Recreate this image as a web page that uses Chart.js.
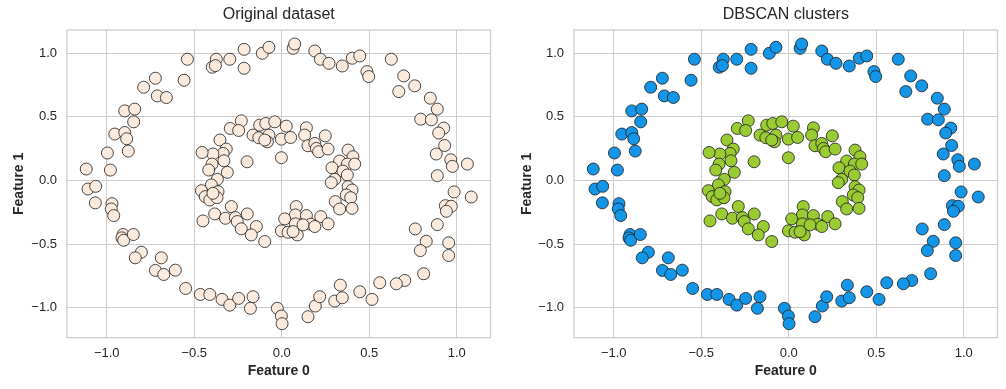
<!DOCTYPE html>
<html>
<head>
<meta charset="utf-8">
<script src="https://cdn.jsdelivr.net/npm/chart.js@4.4.1/dist/chart.umd.min.js"></script>
<style>
    body { margin: 0; background: #ffffff; }
    #wrap { position: relative; width: 1006px; height: 389px; }
    canvas { position: absolute; top: 0; }
</style>
</head>
<body>
<div id="wrap">
    <canvas id="chartLeft" width="503" height="389" style="left:0px"></canvas>
    <canvas id="chartRight" width="503" height="389" style="left:503px"></canvas>
</div>
<script>
// 外圈 (cluster 0)
const outerX = [-0.539, -0.722, -0.789, -0.558, -0.711, -0.659, -0.897, -0.840, -0.846, -0.954, -0.897, -0.886, -0.996, -0.877, -1.117, -0.979,
    -0.374, -0.397, -0.379, -0.297, -0.215, -0.215, -0.111, -0.073, 0.065, 0.074, 0.189, 0.221, 0.270, 0.346, 0.403, 0.446, 0.487, 0.497,
    0.626, 0.697, 0.669, 0.760, 0.849, 0.889, 0.794, 0.855, 0.926, 0.897, 0.931, 0.883, 0.966, 0.975, 1.061, 0.889,
    0.985, 1.083, 0.935, 0.969, 0.941, 0.889, 0.763, 0.826, 0.792, 0.954, 0.954, 0.811, 0.703, 0.655, 0.560, 0.446, 0.516,
    -0.549, -0.465, -0.411, -0.341, -0.297, -0.246, -0.164, -0.179, -0.025, -0.002, 0.002, 0.150, 0.192, 0.217, 0.303, 0.346, 0.335,
    -1.107, -1.063, -1.065, -0.970, -0.974, -0.960, -0.907, -0.913, -0.903, -0.848, -0.802, -0.837, -0.688, -0.722, -0.674, -0.608];
const outerY = [0.953, 0.804, 0.733, 0.788, 0.665, 0.652, 0.547, 0.561, 0.461, 0.365, 0.377, 0.328, 0.216, 0.231, 0.090, 0.082,
    0.953, 0.890, 0.903, 0.953, 1.031, 0.882, 1.000, 1.047, 1.039, 1.073, 1.018, 0.953, 0.921, 0.900, 0.961, 0.979, 0.856, 0.817,
    0.953, 0.822, 0.699, 0.744, 0.647, 0.561, 0.482, 0.477, 0.412, 0.373, 0.275, 0.208, 0.163, 0.111, 0.129, 0.038,
    -0.090, -0.130, -0.198, -0.203, -0.242, -0.347, -0.381, -0.478, -0.551, -0.490, -0.590, -0.733, -0.786, -0.812, -0.804, -0.875, -0.935,
    -0.849, -0.896, -0.896, -0.935, -0.980, -0.927, -0.914, -1.005, -1.005, -1.066, -1.126, -1.071, -0.987, -0.914, -0.948, -0.922, -0.823,
    -0.067, -0.046, -0.176, -0.182, -0.224, -0.276, -0.425, -0.451, -0.470, -0.425, -0.564, -0.608, -0.608, -0.707, -0.739, -0.705];
// 內圈 (cluster 1)
const innerX = [-0.231, -0.294, -0.246, -0.353, -0.317, -0.335, -0.393, -0.455, -0.330, -0.398, -0.417, -0.311, -0.198,
    -0.368, -0.402, -0.459, -0.364, -0.437, -0.411, -0.370, -0.393,
    -0.450, -0.383, -0.288, -0.322, -0.265, -0.254, -0.197, -0.231, -0.145, -0.174, -0.097,
    -0.164, -0.126, -0.091, -0.040, -0.131, -0.073, -0.082, -0.002, 0.026, 0.051, -0.002, -0.097,
    0.141, 0.131, 0.249, 0.150, 0.189, 0.198, 0.211, 0.265,
    0.379, 0.407, 0.331, 0.375, 0.417, 0.287, 0.350, 0.375, 0.303, 0.283, 0.379, 0.402, 0.369, 0.394, 0.306, 0.331, 0.402,
    0.083, 0.078, 0.141, 0.017, 0.078, 0.166, 0.223, 0.265, -0.002, 0.036, 0.089, 0.122, 0.189, 0.065];
const innerY = [0.469, 0.409, 0.393, 0.318, 0.247, 0.213, 0.208, 0.220, 0.155, 0.129, 0.082, 0.064, 0.147,
    0.009, -0.035, -0.080, -0.088, -0.127, -0.153, -0.135, -0.101,
    -0.318, -0.263, -0.205, -0.297, -0.292, -0.323, -0.263, -0.380, -0.362, -0.428, -0.480,
    0.357, 0.435, 0.448, 0.461, 0.336, 0.357, 0.304, 0.325, 0.427, 0.338, 0.179, 0.318,
    0.414, 0.357, 0.351, 0.273, 0.291, 0.252, 0.226, 0.247,
    0.239, 0.187, 0.153, 0.129, 0.129, 0.100, 0.074, 0.043, 0.009, -0.017, -0.049, -0.075, -0.114, -0.135, -0.166, -0.224, -0.219,
    -0.205, -0.271, -0.276, -0.302, -0.341, -0.344, -0.284, -0.341, -0.396, -0.407, -0.428, -0.349, -0.362, -0.402];

const xTicks = [-1.0, -0.5, 0.0, 0.5, 1.0];
const yTicks = [-1.0, -0.5, 0.0, 0.5, 1.0];
const titles = ["Original dataset", "DBSCAN clusters"];
const xLabel = "Feature 0";
const yLabel = "Feature 1";

const textColor = '#262626';
const gridColor = '#cccccc';
const fontFamily = '"Liberation Sans", Arial, sans-serif';

function toPoints(xs, ys) {
    return xs.map((x, i) => ({ x: x, y: ys[i] }));
}

function fmtTick(v) {
    return v.toFixed(1).replace('-', '\u2212');
}

// 畫外框 (spines)
const boxPlugin = {
    id: 'box',
    beforeDatasetsDraw(chart) {
        const a = chart.chartArea;
        const ctx = chart.ctx;
        ctx.save();
        ctx.strokeStyle = gridColor;
        ctx.lineWidth = 1.25;
        ctx.strokeRect(a.left, a.top, a.right - a.left, a.bottom - a.top);
        ctx.restore();
    }
};

function makeChart(id, title, datasets, yWidth, padRight, yTitlePad) {
    const ctx = document.getElementById(id).getContext('2d');
    return new Chart(ctx, {
        type: 'scatter',
        data: { datasets: datasets },
        options: {
            responsive: false,
            animation: false,
            events: [],
            layout: { padding: { left: 0, right: padRight, top: 0, bottom: 0 } },
            plugins: {
                legend: { display: false },
                tooltip: { enabled: false },
                title: {
                    display: true,
                    text: title,
                    fullSize: false,
                    color: textColor,
                    font: { family: fontFamily, size: 16, weight: 'normal', lineHeight: 1.2 },
                    padding: { top: 5, bottom: 5.8 }
                }
            },
            scales: {
                x: {
                    type: 'linear',
                    min: -1.227,
                    max: 1.193,
                    afterBuildTicks: (s) => { s.ticks = xTicks.map(v => ({ value: v })); },
                    afterFit: (s) => { s.height = 51.3; },
                    border: { display: false },
                    grid: { color: gridColor, lineWidth: 1, drawTicks: false },
                    ticks: {
                        color: textColor,
                        padding: 7.8,
                        maxRotation: 0,
                        font: { family: fontFamily, size: 13 },
                        callback: (v) => fmtTick(v)
                    },
                    title: {
                        display: true,
                        text: xLabel,
                        color: textColor,
                        font: { family: fontFamily, size: 14, weight: 'bold' },
                        padding: { top: 0, bottom: 9 }
                    }
                },
                y: {
                    type: 'linear',
                    min: -1.236,
                    max: 1.183,
                    afterBuildTicks: (s) => { s.ticks = yTicks.map(v => ({ value: v })); },
                    afterFit: (s) => { s.width = yWidth; },
                    border: { display: false },
                    grid: { color: gridColor, lineWidth: 1, drawTicks: false },
                    ticks: {
                        color: textColor,
                        padding: 10,
                        font: { family: fontFamily, size: 13 },
                        callback: (v) => fmtTick(v)
                    },
                    title: {
                        display: true,
                        text: yLabel,
                        color: textColor,
                        font: { family: fontFamily, size: 14, weight: 'bold' },
                        padding: { top: yTitlePad, bottom: 0 }
                    }
                }
            }
        },
        plugins: [boxPlugin]
    });
}

const pointStyle = { pointRadius: 6, borderWidth: 0.8, borderColor: '#1a1a1a' };

let allX = outerX.concat(innerX);
let allY = outerY.concat(innerY);

makeChart('chartLeft', titles[0], [
    Object.assign({ label: 'data', data: toPoints(allX, allY), backgroundColor: '#fbebdf' }, pointStyle)
], 67, 12.5, 10.6);

makeChart('chartRight', titles[1], [
    Object.assign({ label: 'cluster 0', data: toPoints(outerX, outerY), backgroundColor: '#1396e8' }, pointStyle),
    Object.assign({ label: 'cluster 1', data: toPoints(innerX, innerY), backgroundColor: '#9acb32' }, pointStyle)
], 71, 8.5, 15.6);
</script>
</body>
</html>
